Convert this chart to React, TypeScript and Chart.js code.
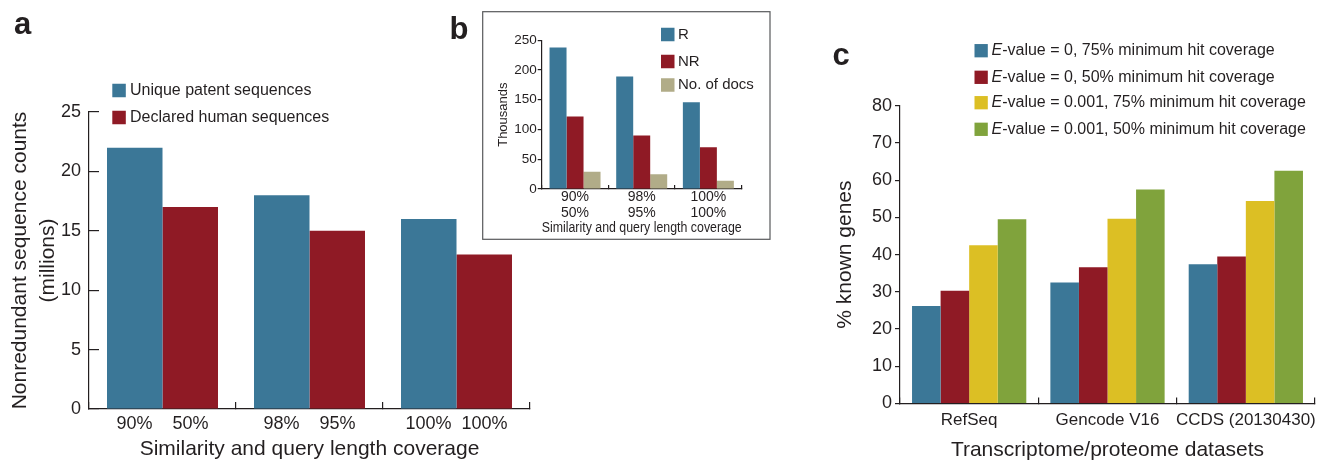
import React, { useEffect, useRef } from 'react';
import { Chart, registerables } from 'chart.js';

Chart.register(...registerables);

const FONT = "'Liberation Sans', Arial, Helvetica, sans-serif";
const INK = '#231f20';
const BLUE = '#3b7797';
const RED = '#8f1a25';
const YELLOW = '#dcbf24';
const GREEN = '#80a33c';
const TAN = '#b1ac88';

// ---- Panel a data ----
const aCategories = ['90%    50%', '98%    95%', '100%  100%'];
const aSeriesLabels = ['Unique patent sequences', 'Declared human sequences'];
const aUnique = [22, 18, 16];
const aDeclared = [17, 15, 13];
const aYTitle = ['Nonredundant sequence counts', '(millions)'];
const aXTitle = 'Similarity and query length coverage';

// ---- Panel b data ----
const bCategories = [['90%', '50%'], ['98%', '95%'], ['100%', '100%']];
const bSeriesLabels = ['R', 'NR', 'No. of docs'];
const bR = [238, 189, 146];
const bNR = [122, 90, 70];
const bDocs = [29, 25, 14];
const bYTitle = 'Thousands';
const bXTitle = 'Similarity and query length coverage';

// ---- Panel c data ----
const cCategories = ['RefSeq', 'Gencode V16', 'CCDS (20130430)'];
const cSeriesLabels = [
  'E-value = 0, 75% minimum hit coverage',
  'E-value = 0, 50% minimum hit coverage',
  'E-value = 0.001, 75% minimum hit coverage',
  'E-value = 0.001, 50% minimum hit coverage',
];
const cE0_75 = [26.2, 32.5, 37.4];
const cE0_50 = [30.3, 36.6, 39.5];
const cE001_75 = [42.5, 49.6, 54.4];
const cE001_50 = [49.5, 57.5, 62.5];
const cYTitle = '% known genes';
const cXTitle = 'Transcriptome/proteome datasets';

const overlayPlugin = {
  id: 'overlay',
  afterDraw(chart: any, _args: any, opts: any) {
    const ctx = chart.ctx as CanvasRenderingContext2D;
    ctx.save();
    if (opts.frame) {
      const f = opts.frame;
      ctx.strokeStyle = '#58595b';
      ctx.lineWidth = 1.2;
      ctx.strokeRect(f.x, f.y, f.w, f.h);
    }
    if (opts.legend) {
      const { x, ys, box, textX, size, italicPrefix } = opts.legend;
      chart.data.datasets.forEach((ds: any, i: number) => {
        const y = ys[i];
        ctx.fillStyle = ds.backgroundColor;
        ctx.fillRect(x, y - box / 2, box, box);
        ctx.fillStyle = INK;
        ctx.textBaseline = 'middle';
        ctx.textAlign = 'left';
        let label: string = ds.label;
        let tx = textX;
        if (italicPrefix && label.startsWith(italicPrefix)) {
          ctx.font = `italic ${size}px ${FONT}`;
          ctx.fillText(italicPrefix, tx, y);
          tx += ctx.measureText(italicPrefix).width;
          label = label.slice(italicPrefix.length);
        }
        ctx.font = `${size}px ${FONT}`;
        ctx.fillText(label, tx, y);
      });
    }
    (opts.letters || []).forEach((l: any) => {
      ctx.fillStyle = INK;
      ctx.font = `bold ${l.size}px ${FONT}`;
      ctx.textBaseline = 'alphabetic';
      ctx.textAlign = 'left';
      ctx.fillText(l.text, l.x, l.y);
    });
    ctx.restore();
  },
};

const font = (size: number, lineHeight = 1.2) => ({ family: FONT, size, lineHeight });

function xScale(opts: any) {
  return {
    type: 'category',
    grid: { offset: true, drawOnChartArea: false, tickLength: opts.tickLength, color: INK, lineWidth: 1.2 },
    border: { color: INK, width: 1.2 },
    ticks: { font: opts.tickFont, color: INK, padding: opts.tickPadding, maxRotation: 0, autoSkip: false },
    title: { display: true, text: opts.title, font: opts.titleFont, color: INK, padding: { top: 0, bottom: opts.titlePad } },
    afterFit: (s: any) => {
      s.height = opts.height;
      s.paddingLeft = 0;
      s.paddingRight = 0;
    },
  };
}

function yScale(opts: any) {
  return {
    min: 0,
    max: opts.max,
    grid: { drawOnChartArea: false, tickLength: opts.tickLength, color: INK, lineWidth: 1.2 },
    border: { color: INK, width: 1.2 },
    ticks: { stepSize: opts.step, font: opts.tickFont, color: INK, padding: opts.tickPadding },
    title: { display: true, text: opts.title, font: opts.titleFont, color: INK, padding: { top: opts.titlePad, bottom: 0 } },
    afterFit: (s: any) => {
      s.width = opts.width;
      s.paddingTop = 0;
      s.paddingBottom = 0;
    },
  };
}

function configA(): any {
  return {
    type: 'bar',
    data: {
      labels: aCategories,
      datasets: [
        { label: aSeriesLabels[0], data: aUnique, backgroundColor: BLUE, categoryPercentage: 0.755, barPercentage: 1 },
        { label: aSeriesLabels[1], data: aDeclared, backgroundColor: RED, categoryPercentage: 0.755, barPercentage: 1 },
      ],
    },
    options: {
      responsive: false,
      animation: false,
      devicePixelRatio: 1,
      layout: { padding: { top: 112, right: 30, left: 0, bottom: 0 } },
      plugins: {
        legend: { display: false },
        tooltip: { enabled: false },
        overlay: {
          legend: { x: 112.3, ys: [90.5, 117.5], box: 13.5, textX: 130, size: 16 },
          letters: [{ text: 'a', x: 14, y: 33.5, size: 31 }],
        },
      },
      scales: {
        x: xScale({ tickLength: -7, tickFont: font(18), tickPadding: 11, title: aXTitle, titleFont: font(21), titlePad: 0.4, height: 53 }),
        y: yScale({ max: 25, step: 5, tickLength: -10, tickFont: font(18), tickPadding: 18, title: aYTitle, titleFont: font(21, 1.333), titlePad: 6, width: 89 }),
      },
    },
    plugins: [overlayPlugin],
  };
}

function configB(): any {
  return {
    type: 'bar',
    data: {
      labels: bCategories,
      datasets: [
        { label: bSeriesLabels[0], data: bR, backgroundColor: BLUE, categoryPercentage: 0.765, barPercentage: 1 },
        { label: bSeriesLabels[1], data: bNR, backgroundColor: RED, categoryPercentage: 0.765, barPercentage: 1 },
        { label: bSeriesLabels[2], data: bDocs, backgroundColor: TAN, categoryPercentage: 0.765, barPercentage: 1 },
      ],
    },
    options: {
      responsive: false,
      animation: false,
      devicePixelRatio: 1,
      layout: { padding: { top: 40.3, right: 38.3, left: 43, bottom: 11 } },
      plugins: {
        legend: { display: false },
        tooltip: { enabled: false },
        overlay: {
          frame: { x: 42.7, y: 11.7, w: 287.3, h: 227.6 },
          legend: { x: 221, ys: [34.5, 61.5, 85], box: 13.5, textX: 238, size: 15 },
          letters: [{ text: 'b', x: 9.5, y: 38.5, size: 31 }],
        },
      },
      scales: {
        x: xScale({ tickLength: -4, tickFont: font(14, 1.143), tickPadding: 3.7, title: bXTitle, titleFont: font(14), titlePad: 2.3, height: 50 }),
        y: yScale({ max: 250, step: 50, tickLength: 4, tickFont: font(13.5), tickPadding: 1, title: bYTitle, titleFont: font(13), titlePad: 12.2, width: 58.7 }),
      },
    },
    plugins: [overlayPlugin],
  };
}

function configC(): any {
  const cp = 0.826;
  return {
    type: 'bar',
    data: {
      labels: cCategories,
      datasets: [
        { label: cSeriesLabels[0], data: cE0_75, backgroundColor: BLUE, categoryPercentage: cp, barPercentage: 1 },
        { label: cSeriesLabels[1], data: cE0_50, backgroundColor: RED, categoryPercentage: cp, barPercentage: 1 },
        { label: cSeriesLabels[2], data: cE001_75, backgroundColor: YELLOW, categoryPercentage: cp, barPercentage: 1 },
        { label: cSeriesLabels[3], data: cE001_50, backgroundColor: GREEN, categoryPercentage: cp, barPercentage: 1 },
      ],
    },
    options: {
      responsive: false,
      animation: false,
      devicePixelRatio: 1,
      layout: { padding: { top: 105.7, right: 4, left: 0, bottom: 0 } },
      plugins: {
        legend: { display: false },
        tooltip: { enabled: false },
        overlay: {
          legend: { x: 174.5, ys: [50.7, 77.3, 102.7, 129.3], box: 13.3, textX: 191.5, size: 16, italicPrefix: 'E' },
          letters: [{ text: 'c', x: 32.5, y: 65, size: 31 }],
        },
      },
      scales: {
        x: xScale({ tickLength: -6, tickFont: font(17), tickPadding: 12.3, title: cXTitle, titleFont: font(21, 1), titlePad: 0.8, height: 58.5 }),
        y: yScale({ max: 80, step: 10, tickLength: 5, tickFont: font(18), tickPadding: 3, title: cYTitle, titleFont: font(21), titlePad: 32.4, width: 100 }),
      },
    },
    plugins: [overlayPlugin],
  };
}

export default function App() {
  const aRef = useRef<HTMLCanvasElement>(null);
  const bRef = useRef<HTMLCanvasElement>(null);
  const cRef = useRef<HTMLCanvasElement>(null);

  useEffect(() => {
    document.body.style.margin = '0';
    const charts = [
      new Chart(aRef.current as HTMLCanvasElement, configA()),
      new Chart(bRef.current as HTMLCanvasElement, configB()),
      new Chart(cRef.current as HTMLCanvasElement, configC()),
    ];
    return () => charts.forEach((c) => c.destroy());
  }, []);

  return (
    <div style={{ position: 'relative', width: 1319, height: 462, background: '#fff', overflow: 'hidden' }}>
      <canvas ref={aRef} width={560} height={462} style={{ position: 'absolute', left: 0, top: 0 }} />
      <canvas ref={bRef} width={340} height={250} style={{ position: 'absolute', left: 440, top: 0 }} />
      <canvas ref={cRef} width={519} height={462} style={{ position: 'absolute', left: 800, top: 0 }} />
    </div>
  );
}
